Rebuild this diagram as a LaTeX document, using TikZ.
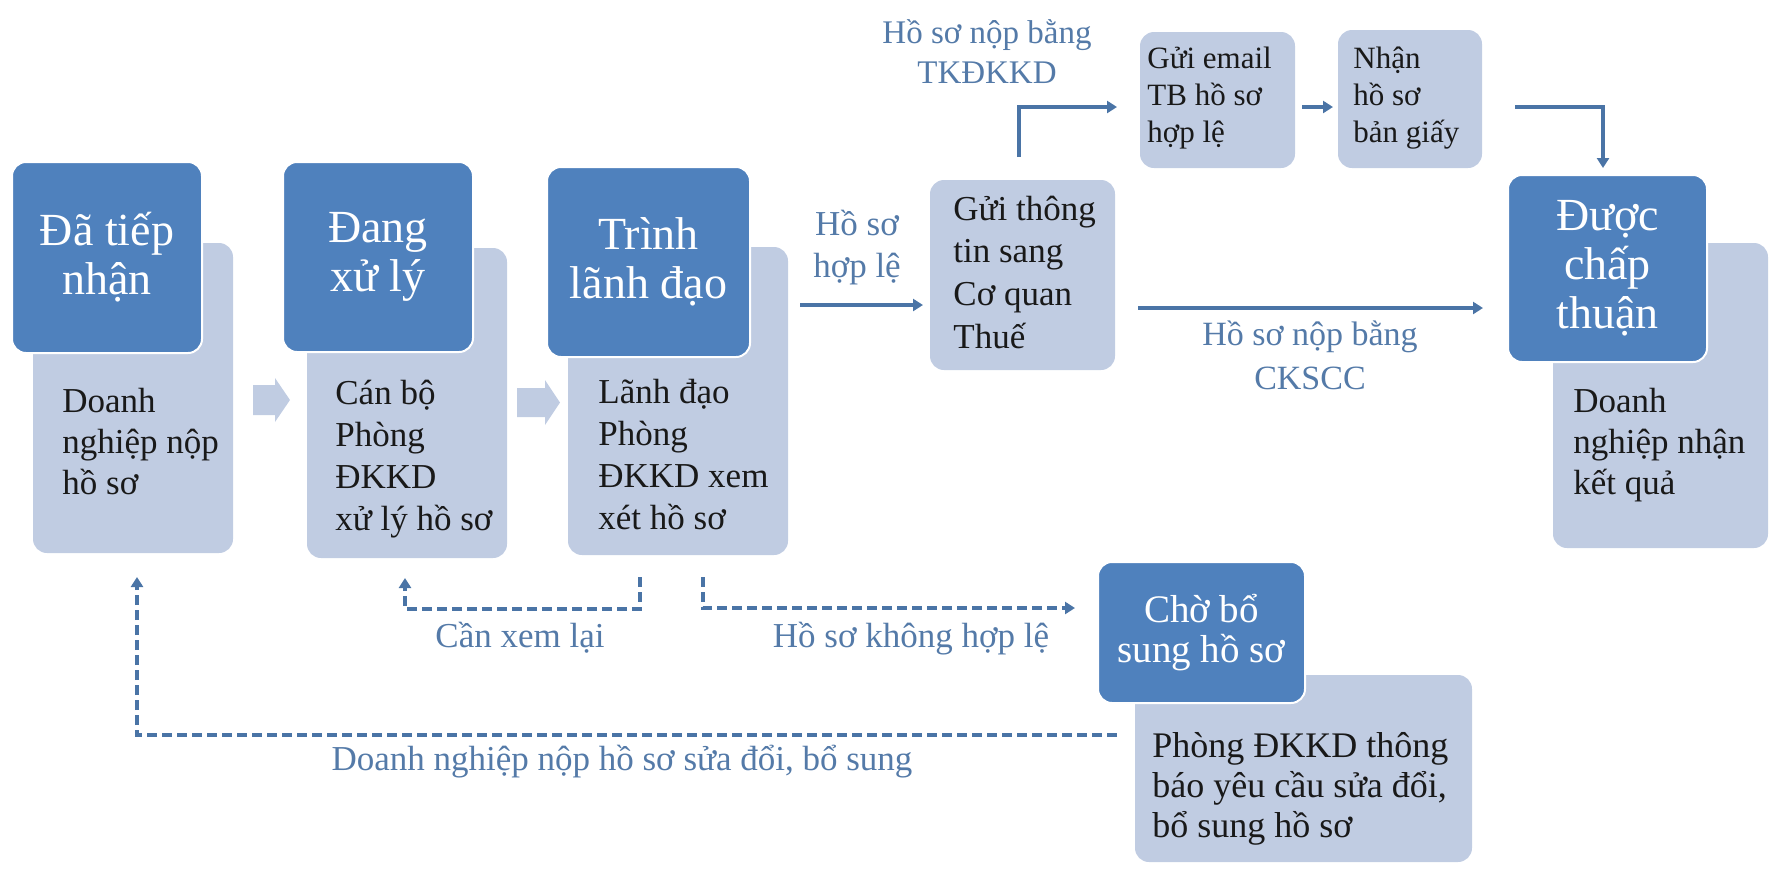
\documentclass[tikz,border=0pt]{standalone}
\usepackage{fontspec}
\setmainfont{Liberation Serif}
\usetikzlibrary{arrows.meta}
\definecolor{dk}{RGB}{79,129,189}
\definecolor{lt}{RGB}{192,204,226}
\definecolor{ln}{RGB}{74,116,166}
\definecolor{lb}{RGB}{84,122,168}
\definecolor{tx}{RGB}{25,25,25}
\begin{document}
\begin{tikzpicture}[x=0.5pt,y=-0.5pt,
  box/.style={rectangle, rounded corners=7pt, inner sep=0pt, outer sep=0pt},
  darkbox/.style={box, fill=dk, draw=white, line width=1pt, text=white, align=center,
    font=\fontsize{23}{24.5}\selectfont},
  lightbox/.style={box, fill=lt},
  bodytext/.style={anchor=base west, align=left, inner sep=0pt, text=tx,
    font=\fontsize{17.5}{21}\selectfont},
  smalltext/.style={bodytext, font=\fontsize{15.5}{18.5}\selectfont},
  lbl/.style={anchor=base, align=center, inner sep=0pt, text=lb,
    font=\fontsize{17.5}{21}\selectfont},
  conn/.style={draw=ln, line width=1.75pt, -{Triangle[length=5pt,width=6pt]}},
  dconn/.style={draw=ln, line width=2pt, dash pattern=on 5pt off 2.5pt,
    -{Triangle[length=5pt,width=6pt]}},
  fat/.style={fill=lt, draw=none}
]
\useasboundingbox (0,0) rectangle (1773,874);

% ---- stage 1
\node[lightbox, minimum width=100pt, minimum height=155pt] (l1) at (133,398) {};
\node[darkbox, minimum width=95pt, minimum height=95.5pt] (d1) at (107,257.5) {Đã tiếp\\nhận};
\node[bodytext, font=\fontsize{17.5}{20.5}\selectfont] (t1) at (62,494) {Doanh\\nghiệp nộp\\hồ sơ};

% ---- stage 2
\node[lightbox, minimum width=100pt, minimum height=155pt] (l2) at (407,403) {};
\node[darkbox, minimum width=95pt, minimum height=95pt] (d2) at (378,257) {Đang\\xử lý};
\node[bodytext] (t2) at (335,530) {Cán bộ\\Phòng\\ĐKKD\\xử lý hồ sơ};

% ---- stage 3
\node[lightbox, minimum width=110pt, minimum height=154pt] (l3) at (678,401) {};
\node[darkbox, minimum width=101.5pt, minimum height=95pt] (d3) at (648.5,262) {Trình\\lãnh đạo};
\node[bodytext] (t3) at (598,529) {Lãnh đạo\\Phòng\\ĐKKD xem\\xét hồ sơ};

% ---- fat arrows
\draw[fat] (253,385) -- (275,385) -- (275,378) -- (290,400) -- (275,422) -- (275,415) -- (253,415) -- cycle;
\draw[fat] (517,388) -- (545,388) -- (545,380) -- (560,402.5) -- (545,425) -- (545,417) -- (517,417) -- cycle;

% ---- tax office
\node[lightbox, minimum width=92.5pt, minimum height=95pt] (g) at (1022.5,275) {};
\node[bodytext, font=\fontsize{17.5}{21.3}\selectfont] (tg) at (953,348) {Gửi thông\\tin sang\\Cơ quan\\Thuế};

% ---- email / paper
\node[lightbox, minimum width=77.5pt, minimum height=68pt] (em) at (1217.5,100) {};
\node[smalltext] (tem) at (1147,142) {Gửi email\\TB hồ sơ\\hợp lệ};
\node[lightbox, minimum width=72pt, minimum height=69pt] (nh) at (1410,99) {};
\node[smalltext] (tnh) at (1353,142) {Nhận\\hồ sơ\\bản giấy};

% ---- approved
\node[lightbox, minimum width=107.5pt, minimum height=152.5pt] (l4) at (1660.5,395.5) {};
\node[darkbox, minimum width=99.5pt, minimum height=93.5pt] (d4) at (1607.5,268.5) {Được\\chấp\\thuận};
\node[bodytext, font=\fontsize{17.5}{20.5}\selectfont] (t4) at (1573,494) {Doanh\\nghiệp nhận\\kết quả};

% ---- waiting for supplement
\node[lightbox, minimum width=168.5pt, minimum height=93.5pt] (l5) at (1303.5,768.5) {};
\node[darkbox, minimum width=103.5pt, minimum height=70.5pt, font=\fontsize{19.5}{20}\selectfont] (d5) at (1201.5,632.5) {Chờ bổ\\sung hồ sơ};
\node[bodytext, font=\fontsize{18}{20}\selectfont] (t5) at (1152,837) {Phòng ĐKKD thông\\báo yêu cầu sửa đổi,\\bổ sung hồ sơ};

% ---- solid connectors
\coordinate (p1) at (800,305);
\draw[conn, shorten >=3.5pt] (p1) -- (p1 -| g.west);
\coordinate (p2) at (1019,157);
\coordinate (p3) at (1019,107);
\draw[conn, shorten >=11.5pt] (p2) -- (p3) -- (p3 -| em.west);
\coordinate (p4) at (1302,107);
\draw[conn, shorten >=2.5pt] (p4) -- (p4 -| nh.west);
\coordinate (p5) at (1515,107);
\coordinate (p6) at (1603,107);
\draw[conn, shorten >=3.5pt] (p5) -- (p6) -- (p6 |- d4.north);
\coordinate (p7) at (1138,308);
\draw[conn, shorten >=12.5pt] (p7) -- (p7 -| d4.west);

% ---- dashed connectors
\coordinate (q1) at (640,577);
\coordinate (q2) at (640,609);
\coordinate (q3) at (405,609);
\draw[dconn, shorten >=10pt] (q1) -- (q2) -- (q3) -- (q3 |- l2.south);
\coordinate (q4) at (703,577);
\coordinate (q5) at (703,608);
\draw[dconn, shorten >=11.5pt] (q4) -- (q5) -- (q5 -| d5.west);
\coordinate (q6) at (1117,735);
\coordinate (q7) at (137,735);
\draw[dconn, shorten >=12pt] (q6) -- (q7) -- (q7 |- l1.south);

% ---- labels
\node[lbl] (lab1) at (857,277) {Hồ sơ\\hợp lệ};
\node[lbl, font=\fontsize{16.5}{20}\selectfont] (lab2) at (987,83) {Hồ sơ nộp bằng\\TKĐKKD};
\node[lbl, font=\fontsize{17}{22}\selectfont] (lab3) at (1310,389) {Hồ sơ nộp bằng\\CKSCC};
\node[lbl] (lab4) at (520,647) {Cần xem lại};
\node[lbl] (lab5) at (911,647) {Hồ sơ không hợp lệ};
\node[lbl] (lab6) at (622,770) {Doanh nghiệp nộp hồ sơ sửa đổi, bổ sung};
\end{tikzpicture}
\end{document}
